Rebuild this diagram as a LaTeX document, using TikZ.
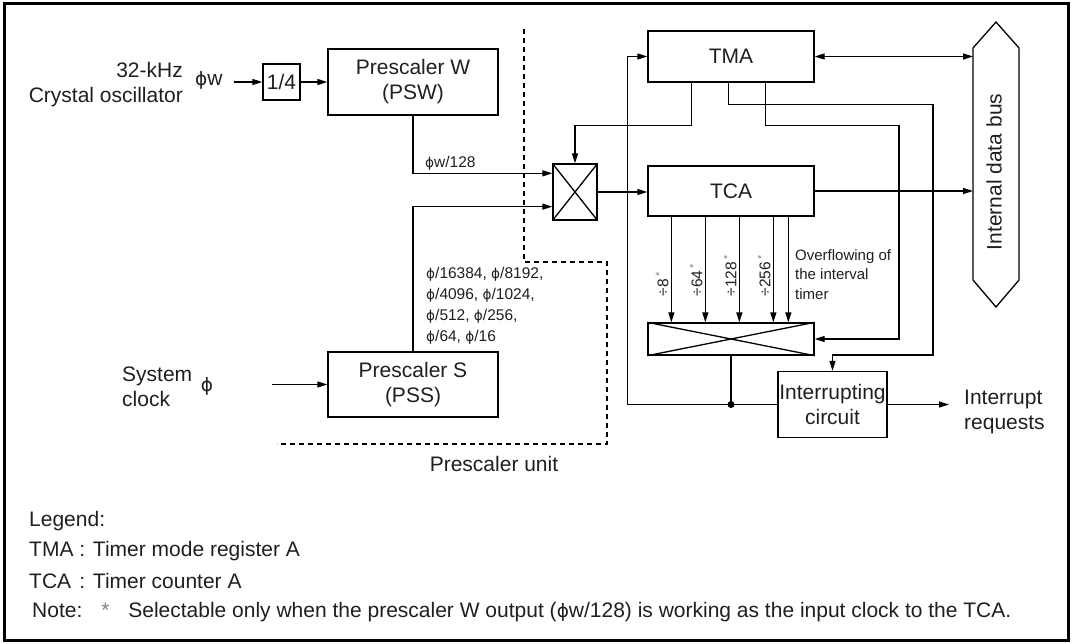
\documentclass[tikz,border=0pt]{standalone}
\usepackage{fontspec}
\setmainfont{Liberation Sans}
\newfontfamily\dejavu{DejaVu Sans}
\usetikzlibrary{arrows.meta,calc}
\newcommand{\ph}{{\dejavu\scalebox{0.88}{ϕ}}}
\begin{document}
\begin{tikzpicture}[x=1pt,y=-1pt,
  txt/.style={font=\fontsize{21}{25}\selectfont, text=black!88, inner sep=0pt, align=center},
  sm/.style={font=\fontsize{15.5}{21}\selectfont, text=black!88, inner sep=0pt, align=left},
  box/.style={draw, line width=1.3pt, inner sep=0pt, font=\fontsize{21}{25}\selectfont, align=center, text=black!88},
  arr/.style={line width=1.3pt, -{Triangle[length=10pt,width=6pt]}},
  dbl/.style={line width=1.3pt, {Triangle[length=10pt,width=6pt]}-{Triangle[length=10pt,width=6pt]}},
  ln/.style={line width=1.3pt},
  dsh/.style={line width=1.3pt, dash pattern=on 5pt off 4pt},
  ]
\useasboundingbox (0,0) rectangle (1073,644);
\draw[line width=3pt] (4,4) rectangle (1068,640);

% boxes
\node[box, minimum width=37pt, minimum height=36pt] (q) at (281.5,82) {1/4};
\node[box, minimum width=170pt, minimum height=66pt] (psw) at (413,82) {Prescaler W\\(PSW)};
\node[box, minimum width=170pt, minimum height=65pt] (pss) at (413,384.5) {Prescaler S\\(PSS)};
\node[box, minimum width=44pt, minimum height=56pt] (m1) at (575,192) {};
\draw[ln] (m1.north west) -- (m1.south east) (m1.north east) -- (m1.south west);
\node[box, minimum width=166pt, minimum height=51pt] (tma) at (731,56.5) {TMA};
\node[box, minimum width=166pt, minimum height=50pt] (tca) at (731,191) {TCA};
\node[box, minimum width=166pt, minimum height=32pt] (m2) at (731,339) {};
\draw[ln] (m2.north west) -- (m2.south east) (m2.north east) -- (m2.south west);
\node[box, minimum width=109pt, minimum height=66pt] (ic) at (832.5,404.5) {Interrupting\\circuit};

% bus
\draw[ln] (973,48) -- (996,22) -- (1019,48) -- (1019,280) -- (996,307) -- (973,280) -- cycle;
\coordinate (busL) at (973,150);
\node[txt, rotate=90] (bus) at (994,172) {Internal data bus};

% input labels
\node[txt, align=right, anchor=east] (xtal) at (183,84.5) {32-kHz\\Crystal oscillator};
\node[txt, anchor=west] (phiw) at (195,80) {\ph w};
\node[txt, align=left, anchor=west] (sys) at (122,387) {System\\clock};
\node[txt] (phis) at (207,386) {\ph};
\coordinate (win) at (234,82);
\coordinate (sin) at (272,384.5);
\coordinate (iout) at (949,404.5);

\draw[arr] (win) -- (q.west);
\draw[arr] (q.east) -- (psw.west);
\draw[arr] (sin) -- (pss.west);

\draw[arr] (psw.south) |- ($(m1.north west)+(0,10)$);
\draw[arr] (pss.north) |- ($(m1.south west)+(0,-14)$);
\node[sm, anchor=west] (w128) at (425,163) {\ph w/128};
\node[sm, anchor=north west] (plist) at (426,267) {\ph/16384, \ph/8192,\\ \ph/4096, \ph/1024,\\ \ph/512, \ph/256,\\ \ph/64, \ph/16};

\draw[arr] (m1.east) -- (m1.east -| tca.west);

% TMA control lines
\draw[arr] ($(tma.south west)+(44,0)$) -- ++(0,43) -| (m1.north);
\draw[arr] ($(tma.south west)+(81,0)$) -- ++(0,22) -| (933,355) -| (ic.north);
\draw[arr] ($(tma.south west)+(118,0)$) -- ++(0,43) -| (899,339) -- (m2.east);

\draw[dbl] (tma.east) -- (tma.east -| busL);
\draw[arr] (tca.east) -- (tca.east -| busL);

% divider arrows
\foreach \dx in {24,58,92,126,141}
  \draw[arr] ($(tca.south west)+(\dx,0)$) -- ($(m2.north west)+(\dx,0)$);
\foreach \dx/\lab in {24/8, 58/64, 92/128, 126/256}
  \node[sm, rotate=90, anchor=base west] at ($(tca.south west)+(\dx-3,80)$) {÷\lab\,{\color{black!50}\textsuperscript{*}}};
\node[sm, anchor=north west, font=\fontsize{15}{19.5}\selectfont] (ovf) at (795,249) {Overflowing of\\the interval\\timer};

% interrupt path
\coordinate (dot) at (m2.south |- ic.west);
\draw[ln] (m2.south) -- (dot) -- (ic.west);
\fill (dot) circle (3.5pt);
\draw[arr] (dot) -| ($(tma.west)+(-20,0)$) -- (tma.west);
\draw[arr] (ic.east) -- (iout);
\node[txt, align=left, anchor=west] (irq) at (964,411.5) {Interrupt\\requests};

% prescaler unit boundary
\draw[dsh] (524,29) -- (524,262) -- (607,262) -- (607,444) -- (277,444);
\node[txt] (pu) at (494,464) {Prescaler unit};

% legend
\node[txt, anchor=west] (lg) at (29,521) {Legend:};
\node[txt, anchor=west] (lg1) at (29,551) {\makebox[2.389em][l]{TMA}: Timer mode register A};
\node[txt, anchor=west] (lg2) at (29,581) {\makebox[2.389em][l]{TCA}: Timer counter A};
\node[txt, anchor=west] (lg3) at (32,612) {Note:\hspace{0.9em}{\color{black!50}*}\hspace{0.9em}Selectable only when the prescaler W output (\ph w/128) is working as the input clock to the TCA.};
\end{tikzpicture}
\end{document}
